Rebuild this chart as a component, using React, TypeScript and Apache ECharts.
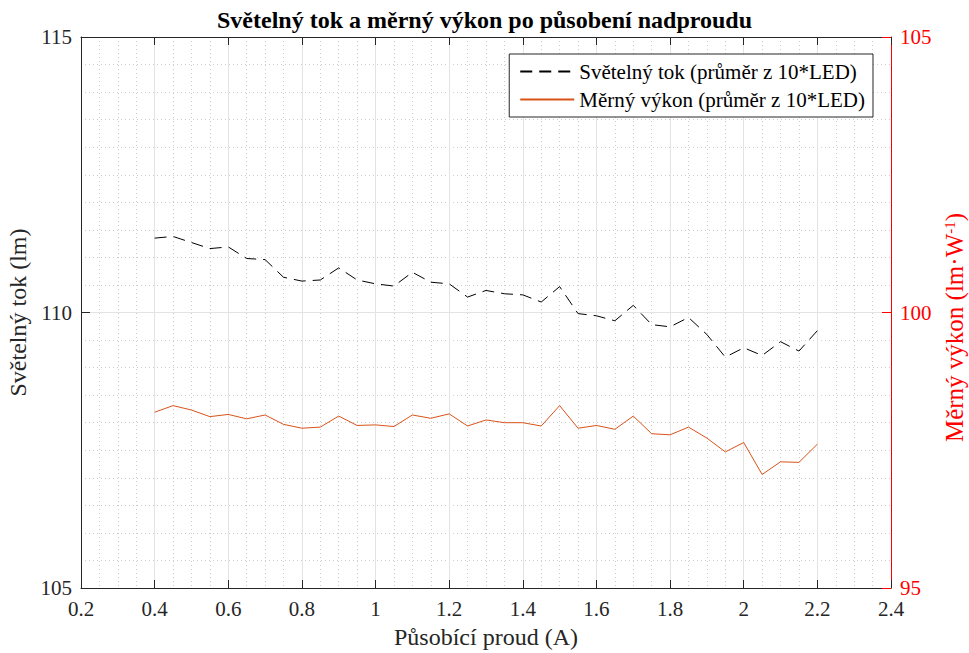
import React, { useEffect, useRef } from "react";
import * as echarts from "echarts";

const currentA = [
  0.4, 0.45, 0.5, 0.55, 0.6, 0.65, 0.7, 0.75, 0.8, 0.85, 0.9, 0.95, 1.0,
  1.05, 1.1, 1.15, 1.2, 1.25, 1.3, 1.35, 1.4, 1.45, 1.5, 1.55, 1.6, 1.65,
  1.7, 1.75, 1.8, 1.85, 1.9, 1.95, 2.0, 2.05, 2.1, 2.15, 2.2,
];

const fluxLm = [
  111.35, 111.38, 111.27, 111.16, 111.19, 110.98, 110.96, 110.64, 110.57, 110.59, 110.81, 110.59, 110.52,
  110.48, 110.73, 110.55, 110.52, 110.28, 110.4, 110.34, 110.32, 110.19, 110.47, 109.98, 109.94, 109.85,
  110.13, 109.78, 109.74, 109.91, 109.6, 109.19, 109.36, 109.22, 109.47, 109.3, 109.67,
];

const efficacy = [
  98.19, 98.31, 98.23, 98.11, 98.15, 98.07, 98.14, 97.97, 97.9, 97.92, 98.12, 97.95, 97.96,
  97.93, 98.14, 98.08, 98.16, 97.94, 98.05, 98.0, 98.0, 97.94, 98.31, 97.9, 97.95, 97.88,
  98.12, 97.8, 97.78, 97.92, 97.72, 97.47, 97.64, 97.06, 97.29, 97.28, 97.61,
];

const seriesNames = ["Světelný tok (průměr z 10*LED)", "Měrný výkon (průměr z 10*LED)"];

const FONT = "'Liberation Serif', 'Times New Roman', serif";
const AXIS_COLOR = "#262626";
const MAJOR_GRID = "#e3e3e3";
const MINOR_GRID = "#cccccc";

export default function App() {
  const ref = useRef<HTMLDivElement>(null);

  useEffect(() => {
    if (!ref.current) return;
    const chart = echarts.init(ref.current, null, { renderer: "svg" });
    const fluxData = currentA.map((x, i) => [x, fluxLm[i]]);
    const effData = currentA.map((x, i) => [x, efficacy[i]]);

    chart.setOption({
      animation: false,
      backgroundColor: "#ffffff",
      textStyle: { fontFamily: FONT },
      title: {
        text: "Světelný tok a měrný výkon po působení nadproudu",
        left: "center",
        top: 3,
        textStyle: { fontFamily: FONT, fontSize: 24, fontWeight: "bold", color: "#000" },
      },
      legend: {
        orient: "vertical",
        right: 96,
        top: 54,
        data: seriesNames,
        backgroundColor: "#ffffff",
        borderColor: "#262626",
        borderWidth: 1,
        borderRadius: 0,
        padding: [7, 8, 7, 10],
        itemGap: 7,
        itemWidth: 54,
        itemHeight: 14,
        itemStyle: { opacity: 0 },
        textStyle: { fontFamily: FONT, fontSize: 21, color: "#000" },
      },
      grid: {
        left: 81,
        right: 78,
        top: 37,
        bottom: 65,
        containLabel: false,
        outerBoundsMode: "none",
      },
      xAxis: [
        {
          type: "value",
          min: 0.2,
          max: 2.4,
          interval: 0.2,
          position: "bottom",
          name: "Působící proud (A)",
          nameLocation: "middle",
          nameGap: 37,
          nameTextStyle: { fontFamily: FONT, fontSize: 24, color: AXIS_COLOR },
          axisLine: { show: true, lineStyle: { color: AXIS_COLOR, width: 1 } },
          axisTick: { show: true, inside: true, length: 8, lineStyle: { color: AXIS_COLOR } },
          axisLabel: {
            fontFamily: FONT,
            fontSize: 21,
            color: AXIS_COLOR,
            margin: 10,
            formatter: (v: number) => String(Math.round(v * 10) / 10),
          },
          splitLine: { show: true, lineStyle: { color: MAJOR_GRID, width: 1 } },
          minorTick: { show: false, splitNumber: 4 },
          minorSplitLine: { show: true, lineStyle: { color: MINOR_GRID, width: 1, type: [1, 3] } },
        },
        {
          type: "value",
          min: 0.2,
          max: 2.4,
          interval: 0.2,
          position: "top",
          axisLine: { show: true, lineStyle: { color: AXIS_COLOR, width: 1 } },
          axisTick: { show: true, inside: true, length: 8, lineStyle: { color: AXIS_COLOR } },
          axisLabel: { show: false },
          splitLine: { show: false },
        },
      ],
      yAxis: [
        {
          type: "value",
          min: 105,
          max: 115,
          interval: 5,
          position: "left",
          name: "Světelný tok (lm)",
          nameLocation: "middle",
          nameRotate: 90,
          nameGap: 33,
          nameTextStyle: { fontFamily: FONT, fontSize: 24, color: AXIS_COLOR },
          axisLine: { show: true, lineStyle: { color: AXIS_COLOR, width: 1 } },
          axisTick: { show: true, inside: true, length: 9, lineStyle: { color: AXIS_COLOR } },
          axisLabel: { fontFamily: FONT, fontSize: 21, color: AXIS_COLOR, margin: 9 },
          splitLine: { show: true, lineStyle: { color: MAJOR_GRID, width: 1 } },
          minorTick: { show: false, splitNumber: 10 },
          minorSplitLine: { show: true, lineStyle: { color: MINOR_GRID, width: 1, type: [1, 3] } },
        },
        {
          type: "value",
          min: 95,
          max: 105,
          interval: 5,
          position: "right",
          name: "{a|Měrný výkon (lm·W}{s|-1}{a|)}",
          nameLocation: "middle",
          nameRotate: 90,
          nameGap: 50,
          nameTextStyle: {
            fontFamily: FONT,
            fontSize: 25,
            color: "#ff0000",
            padding: [0, 30, 0, 0],
            rich: {
              a: { fontFamily: FONT, fontSize: 25, color: "#ff0000" },
              s: { fontFamily: FONT, fontSize: 15, color: "#ff0000", padding: [0, 0, 10, 0] },
            },
          },
          axisLine: { show: true, lineStyle: { color: "#ff0000", width: 1 } },
          axisTick: { show: true, inside: true, length: 9, lineStyle: { color: "#ff0000" } },
          axisLabel: { fontFamily: FONT, fontSize: 21, color: "#ff0000", margin: 9 },
          splitLine: { show: false },
        },
      ],
      series: [
        {
          name: seriesNames[0],
          type: "line",
          xAxisIndex: 0,
          yAxisIndex: 0,
          data: fluxData,
          symbol: "none",
          lineStyle: { color: "#000000", width: 1, type: [12, 7] },
          itemStyle: { color: "#000000" },
          z: 3,
        },
        {
          name: seriesNames[1],
          type: "line",
          xAxisIndex: 0,
          yAxisIndex: 1,
          data: effData,
          symbol: "none",
          lineStyle: { color: "#D95319", width: 1 },
          itemStyle: { color: "#D95319" },
          z: 3,
        },
      ],
    });

    return () => chart.dispose();
  }, []);

  return (
    <div
      ref={ref}
      style={{ position: "fixed", left: 0, top: 0, width: 969, height: 653 }}
    />
  );
}
